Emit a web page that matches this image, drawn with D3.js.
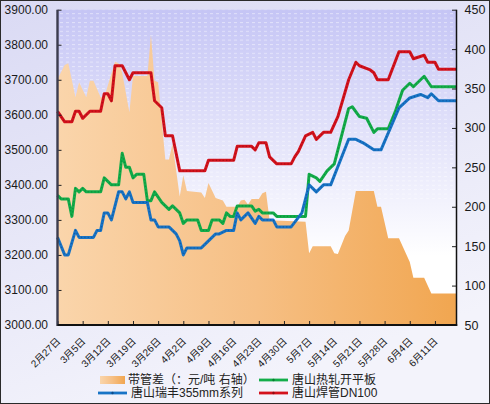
<!DOCTYPE html>
<meta charset="utf-8">
<style>
  html, body { margin: 0; padding: 0; background: #fff; }
  svg { display: block; }
  .tick text { font-family: "Liberation Sans", Arial, "Noto Sans CJK SC", sans-serif; fill: #1a1a1a; }
  .legend text { font-family: "Liberation Sans", Arial, "Noto Sans CJK SC", sans-serif; font-size: 12px; fill: #222; }
</style>
<body>
<div id="vis"></div>
<script src="https://cdn.jsdelivr.net/npm/d3@7"></script>
<script>

const width = 490,
    height = 404;

// day offsets from 2012-02-27, value read at each vertex
const startDate = new Date(2012, 1, 27);
const lastDay = 111;

const legendNames = ['带管差（：元/吨 右轴）', '唐山热轧开平板', '唐山瑞丰355mm系列', '唐山焊管DN100'];

// 带管差, right axis
const spread = [
  [0,362],[2,380],[3,382],[5,339],[6,358],[8,339],[9,360],[10,360],[12,339],[13,339],
  [16,384],[17,382],[18,370],[19,345],[20,320],[21,366],[25,366],[26,418],[27,360],[28,358],
  [30,260],[31,260],[32,280],[34,213],[35,240],[36,220],[40,218],[41,211],[42,230],[44,211],
  [46,208],[47,200],[50,200],[51,208],[52,209],[53,203],[54,210],[56,210],[57,217],[58,219],
  [59,183],[69,181],[70,141],[71,150],[76,150],[77,141],[78,140],[80,163],[81,170],[83,220],
  [88,220],[89,200],[90,200],[92,160],[95,160],[98,130],[99,110],[102,110],[104,90],[111,90]
];

// 唐山热轧开平板
const hotRolled = [
  [0,3370],[1,3360],[3,3360],[4,3310],[5,3390],[6,3380],[7,3390],[8,3380],[12,3380],[13,3420],
  [15,3400],[17,3400],[18,3490],[19,3450],[20,3450],[21,3420],[22,3430],[24,3430],[25,3355],[26,3355],
  [27,3380],[29,3350],[31,3330],[32,3340],[34,3320],[35,3290],[36,3300],[39,3300],[40,3270],[42,3270],
  [43,3300],[45,3300],[46,3290],[47,3320],[48,3310],[49,3310],[50,3340],[54,3340],[55,3325],[56,3330],
  [57,3320],[60,3320],[61,3310],[69,3310],[70,3430],[72,3420],[73,3410],[75,3440],[77,3460],[81,3618],
  [82,3623],[84,3595],[86,3590],[88,3550],[89,3560],[92,3560],[94,3610],[96,3670],[98,3690],[99,3680],
  [102,3710],[104,3680],[111,3680]
];

// 唐山瑞丰355mm系列
const ruifeng = [
  [0,3250],[2,3200],[3,3200],[5,3270],[6,3250],[10,3250],[11,3270],[12,3270],[13,3320],[14,3320],
  [15,3300],[17,3380],[18,3380],[19,3360],[20,3380],[21,3350],[25,3350],[26,3300],[27,3300],[28,3280],
  [31,3280],[33,3260],[34,3240],[35,3200],[36,3220],[40,3220],[44,3260],[45,3260],[47,3270],[49,3270],
  [50,3320],[51,3300],[53,3320],[55,3290],[56,3310],[57,3300],[60,3300],[61,3280],[65,3280],[68,3320],
  [70,3400],[72,3380],[74,3400],[76,3400],[81,3530],[83,3530],[85,3520],[88,3500],[90,3500],[95,3620],
  [98,3648],[101,3658],[103,3649],[104,3660],[106,3640],[111,3640]
];

// 唐山焊管DN100
const weldedPipe = [
  [0,3610],[2,3580],[4,3580],[5,3610],[6,3610],[7,3590],[9,3610],[12,3610],[13,3660],[14,3660],
  [15,3640],[16,3740],[18,3740],[20,3700],[21,3720],[26,3720],[27,3640],[28,3630],[29,3620],[30,3540],
  [32,3540],[34,3440],[41,3440],[42,3470],[49,3470],[50,3510],[54,3510],[55,3500],[56,3520],[58,3520],
  [59,3480],[61,3460],[65,3460],[66,3480],[67,3495],[69,3540],[71,3550],[72,3530],[74,3550],[76,3550],
  [78,3595],[81,3700],[83,3750],[84,3740],[87,3728],[88,3720],[89,3700],[92,3700],[95,3780],[98,3780],
  [99,3760],[102,3770],[103,3750],[105,3750],[106,3730],[111,3730]
];

const leftTicks = [3000, 3100, 3200, 3300, 3400, 3500, 3600, 3700, 3800, 3900];
const rightTicks = [50, 100, 150, 200, 250, 300, 350, 400, 450];

const plot = {left: 57.5, right: 456.5, top: 9.7, bottom: 325};

const dayDate = d => d3.timeDay.offset(startDate, d);

const x = d3.scaleTime()
    .domain([startDate, dayDate(lastDay)])
    .range([plot.left, plot.right]);
const yL = d3.scaleLinear()
    .domain([3000, 3900])
    .range([plot.bottom, plot.top]);
const yR = d3.scaleLinear()
    .domain([50, 450])
    .range([plot.bottom, plot.top]);

const svg = d3.select('#vis')
    .append('svg')
    .attr('width', width)
    .attr('height', height);

const defs = svg.append('defs');
const grad = (id, x2, y2, stops) => {
  const g = defs.append('linearGradient')
      .attr('id', id)
      .attr('x1', 0).attr('y1', 0).attr('x2', x2).attr('y2', y2);
  stops.forEach(s => g.append('stop').attr('offset', s[0]).attr('stop-color', s[1]));
};
grad('bg-outer', 0.4, 1, [[0, '#dadaf4'], [1, '#f3f3fb']]);
grad('bg-plot', 0, 1, [[0, '#c5c5f5'], [0.78, '#ffffff'], [1, '#ffffff']]);
grad('area-fill', 1, 0, [[0, '#fad5ab'], [0.5, '#f6bf84'], [1, '#f1a650']]);

const stripes = defs.append('pattern')
    .attr('id', 'stripes')
    .attr('patternUnits', 'userSpaceOnUse')
    .attr('width', 6).attr('height', 4.4);
stripes.append('rect')
    .attr('width', 3).attr('height', 1)
    .style('fill', '#ffffff')
    .style('opacity', 0.45);

// backgrounds
svg.append('rect')
    .attr('x', 0.5).attr('y', 0.5)
    .attr('width', width - 1).attr('height', height - 1)
    .style('fill', 'url(#bg-outer)')
    .style('stroke', '#2a2a2a');
svg.append('rect')
    .attr('x', plot.left).attr('y', plot.top)
    .attr('width', plot.right - plot.left).attr('height', plot.bottom - plot.top)
    .style('fill', 'url(#bg-plot)');
svg.append('rect')
    .attr('x', plot.left).attr('y', plot.top)
    .attr('width', plot.right - plot.left).attr('height', (plot.bottom - plot.top) * 0.6)
    .style('fill', 'url(#stripes)');

const chartG = svg.append('g').attr('class', 'chart-group');

let area = d3.area()
    .x(d => x(dayDate(d[0])))
    .y0(yR(50))
    .y1(d => yR(d[1]));

chartG.append('path')
    .datum(spread)
    .attr('d', area)
    .style('fill', 'url(#area-fill)');

const lineSeries = [
  {data: hotRolled, color: '#13ad4a', dot: '#0a7a30'},
  {data: ruifeng, color: '#1874c6', dot: '#0c4a8a'},
  {data: weldedPipe, color: '#d4121c', dot: '#8e0c12'}
];

let line = d3.line()
    .x(d => x(dayDate(d[0])))
    .y(d => yL(d[1]));

lineSeries.forEach(s => {
  chartG.append('path')
      .datum(s.data)
      .attr('d', line)
      .style('fill', 'none')
      .style('stroke', s.color)
      .style('stroke-width', 3)
      .style('stroke-linejoin', 'round');
  chartG.append('path')
      .datum(s.data)
      .attr('d', line)
      .style('fill', 'none')
      .style('stroke', s.dot)
      .style('stroke-width', 1.1)
      .style('stroke-dasharray', '1.2 2.2')
      .style('opacity', 0.6);
});

// axes
const axisG = svg.append('g').attr('class', 'axis-group');

const leftAxis = axisG.append('g')
    .attr('transform', 'translate(' + plot.left + ',0)')
    .call(d3.axisLeft(yL).tickValues(leftTicks).tickFormat(d3.format('.2f'))
      .tickSizeInner(-4).tickSizeOuter(0).tickPadding(9.5));
leftAxis.selectAll('text').style('font-size', '12px');

const rightAxis = axisG.append('g')
    .attr('transform', 'translate(' + plot.right + ',0)')
    .call(d3.axisRight(yR).tickValues(rightTicks)
      .tickSizeInner(-4.5).tickSizeOuter(0).tickPadding(8));
rightAxis.selectAll('text').style('font-size', '12.5px');

const bottomAxis = axisG.append('g')
    .attr('transform', 'translate(0,' + plot.bottom + ')')
    .call(d3.axisBottom(x).ticks(d3.timeMonday.every(1)).tickFormat(d3.timeFormat('%-m月%-d日'))
      .tickSizeInner(-4).tickSizeOuter(0).tickPadding(0));
bottomAxis.selectAll('text')
    .style('font-size', '10px')
    .style('text-anchor', 'end')
    .attr('dy', null)
    .attr('y', 0)
    .attr('transform', 'translate(3,17) rotate(-45)');

axisG.selectAll('.domain').remove();
axisG.selectAll('.tick line').style('stroke', '#222').style('stroke-width', 1);

axisG.append('line')
    .attr('x1', plot.left).attr('x2', plot.left)
    .attr('y1', plot.top).attr('y2', plot.bottom + 1)
    .style('stroke', '#3c3c4e').style('stroke-width', 2.4);
axisG.append('line')
    .attr('x1', plot.right).attr('x2', plot.right)
    .attr('y1', plot.top).attr('y2', plot.bottom + 1)
    .style('stroke', '#111').style('stroke-width', 1.5);
axisG.append('line')
    .attr('x1', plot.left).attr('x2', plot.right + 0.7)
    .attr('y1', plot.bottom).attr('y2', plot.bottom)
    .style('stroke', '#111').style('stroke-width', 1.8);

// legend
const legendG = svg.append('g').attr('class', 'legend');
const legendItems = [
  {name: legendNames[0], type: 'area', x: 100, y: 380},
  {name: legendNames[1], type: 'line', color: lineSeries[0].color, dot: lineSeries[0].dot, x: 259, y: 380},
  {name: legendNames[2], type: 'line', color: lineSeries[1].color, dot: lineSeries[1].dot, x: 98, y: 393},
  {name: legendNames[3], type: 'line', color: lineSeries[2].color, dot: lineSeries[2].dot, x: 259, y: 393}
];
legendItems.forEach(l => {
  const g = legendG.append('g').attr('transform', 'translate(' + l.x + ',' + l.y + ')');
  if (l.type == 'area') {
    g.append('rect')
        .attr('x', 0).attr('y', -4)
        .attr('width', 25).attr('height', 8)
        .style('fill', 'url(#area-fill)');
  } else {
    g.append('line')
        .attr('x1', 0).attr('x2', 29)
        .style('stroke', l.color).style('stroke-width', 2.8);
    g.append('circle')
        .attr('cx', 14.5).attr('r', 1.2)
        .style('fill', l.dot);
  }
  g.append('text')
      .attr('x', l.type == 'area' ? 28 : 33)
      .attr('dy', '0.36em')
      .text(l.name);
});

</script>
</body>
